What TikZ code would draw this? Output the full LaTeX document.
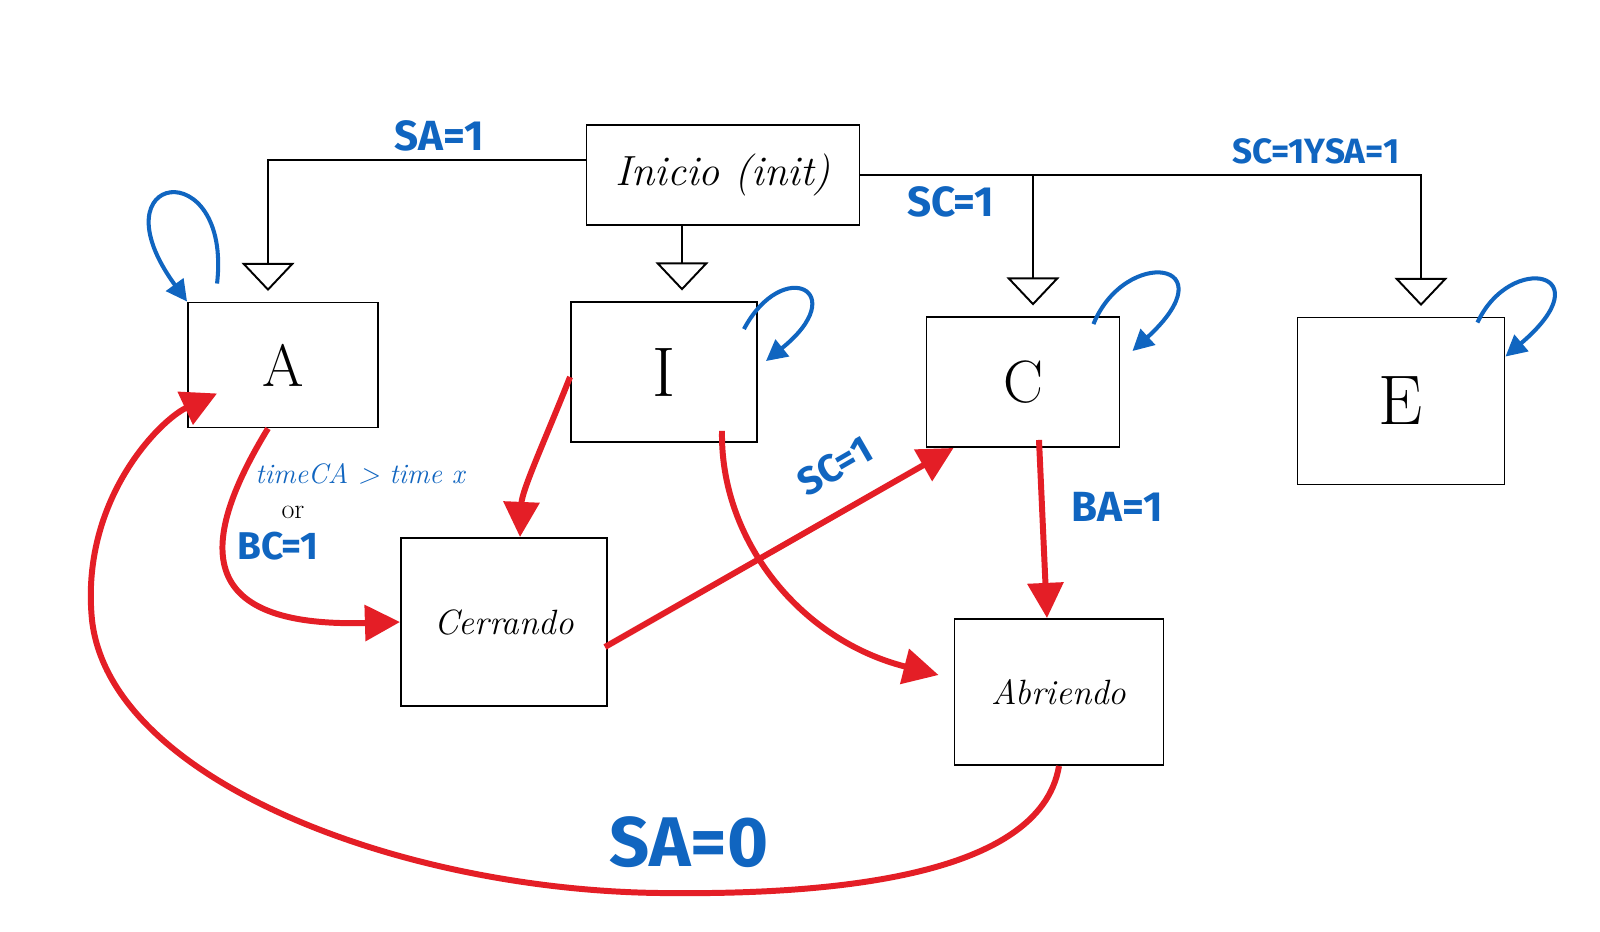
\documentclass[tikz,border=0pt]{standalone}
\usepackage{fontspec}
\setsansfont{Fira Sans}
\usetikzlibrary{arrows.meta}
\definecolor{penblue}{RGB}{16,101,192}
\definecolor{penred}{RGB}{228,30,38}

\begin{document}
\begin{tikzpicture}[x=0.02cm, y=-0.02cm,
  box/.style={draw, line width=1.1pt, inner sep=0pt},
  initedge/.style={line width=1.1pt, -{Triangle[open,length=16pt,width=30pt]}, shorten >=6pt},
  loopedge/.style={penblue, line width=2.3pt, -{Triangle[length=12pt,width=12pt]}},
  rededge/.style={penred, line width=3.4pt, -{Triangle[length=20pt,width=20pt]}},
  lbl/.style={penblue, font=\sffamily\bfseries\fontsize{24}{28}\selectfont}]

\useasboundingbox[fill=white] (0,0) rectangle (1600,931);

% states
\node[box, minimum width=5.46cm, minimum height=2cm, font=\itshape\fontsize{24}{28}\selectfont] (inicio) at (723,175) {Inicio (init)};
\node[box, minimum width=3.8cm, minimum height=2.5cm, font=\fontsize{34}{40}\selectfont] (a) at (283,365) {A};
\node[box, minimum width=3.72cm, minimum height=2.8cm, font=\fontsize{40}{46}\selectfont] (i) at (664,372) {I};
\node[box, minimum width=3.86cm, minimum height=2.6cm, font=\fontsize{34}{40}\selectfont] (c) at (1023,382) {C};
\node[box, minimum width=4.14cm, minimum height=3.34cm, font=\fontsize{40}{46}\selectfont] (e) at (1401,401) {E};
\node[box, minimum width=4.12cm, minimum height=3.36cm, font=\itshape\fontsize{20}{24}\selectfont] (cerrando) at (504,622) {Cerrando};
\node[box, minimum width=4.18cm, minimum height=2.92cm, font=\itshape\fontsize{20}{24}\selectfont] (abriendo) at (1059,692) {Abriendo};

% from init
\draw[initedge] ([shift={(0,-15)}]inicio.west) -| ([shift={(-15,0)}]a.north);
\draw[initedge] ([shift={(18,0)}]i.north |- inicio.south) -- ([shift={(18,0)}]i.north);
\draw[initedge] (inicio.east) -| ([shift={(10,0)}]c.north);
\draw[initedge] (inicio.east) -| ([shift={(20,0)}]e.north);

\node[lbl] (lsa) at (439,136) {SA=1};
\node[lbl] (lsc) at (951,202) {SC=1};
\node[lbl, font=\sffamily\bfseries\fontsize{20}{24}\selectfont] (lscsa) at (1316,151) {SC=1YSA=1};

% self loops
\draw[loopedge] ([shift={(30,-18)}]a.north west) .. controls ([shift={(45,-150)}]a.north west) and ([shift={(-95,-130)}]a.north west) .. (a.north west);
\draw[loopedge] ([shift={(-14,28)}]i.north east) .. controls ([shift={(25,-45)}]i.north east) and ([shift={(95,-10)}]i.north east) .. ([shift={(8,60)}]i.north east);
\draw[loopedge] ([shift={(-27,8)}]c.north east) .. controls ([shift={(5,-70)}]c.north east) and ([shift={(110,-55)}]c.north east) .. ([shift={(12,35)}]c.north east);
\draw[loopedge] ([shift={(-28,6)}]e.north east) .. controls ([shift={(5,-65)}]e.north east) and ([shift={(100,-45)}]e.north east) .. ([shift={(0,40)}]e.north east);

% transitions
\draw[rededge] ([shift={(-15,0)}]a.south) .. controls (200,540) and (190,628) .. (cerrando.west);
\node[penblue, font=\itshape\fontsize{16}{19}\selectfont] (ltime) at (360,474) {timeCA > time x};
\node[font=\fontsize{16}{19}\selectfont] (lor) at (293,512) {or};
\node[lbl, font=\sffamily\bfseries\fontsize{22}{26}\selectfont] (lbc) at (278,546) {BC=1};

\draw[rededge] ([shift={(0,5)}]i.west) .. controls (545,440) and (522,490) .. ([shift={(16,0)}]cerrando.north);
\draw[rededge] ([shift={(58,-12)}]i.south) .. controls (720,540) and (800,640) .. ([shift={(-15,-17)}]abriendo.west);

\draw[rededge] ([shift={(-3,25)}]cerrando.east) -- ([shift={(28,0)}]c.south west);
\node[lbl, font=\sffamily\bfseries\fontsize{22}{26}\selectfont, rotate=30] (lsc2) at (835,466) {SC=1};

\draw[rededge] ([shift={(16,-8)}]c.south) -- ([shift={(-12,0)}]abriendo.north);
\node[lbl] (lba) at (1117,507) {BA=1};

\draw[rededge] (abriendo.south) .. controls (1040,880) and (820,895) .. (660,893) .. controls (400,890) and (110,780) .. (92,620) .. controls (80,500) and (160,420) .. ([shift={(30,-35)}]a.south west);
\node[lbl, font=\sffamily\bfseries\fontsize{40}{46}\selectfont] (lsa0) at (689,842) {SA=0};

\end{tikzpicture}
\end{document}
